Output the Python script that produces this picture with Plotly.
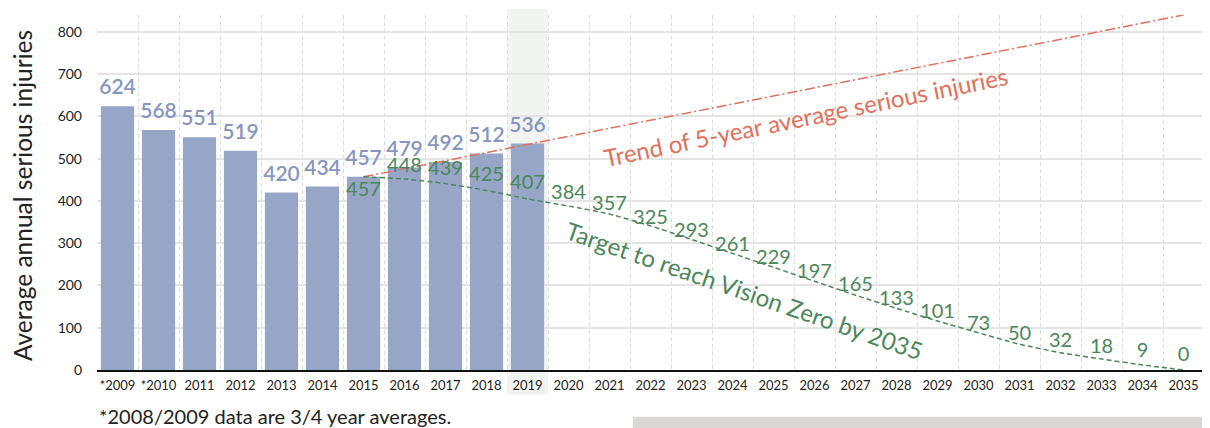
import plotly.graph_objects as go

# ---- data ----
categories = ["*2009", "*2010", "2011", "2012", "2013", "2014", "2015", "2016", "2017",
              "2018", "2019", "2020", "2021", "2022", "2023", "2024", "2025", "2026",
              "2027", "2028", "2029", "2030", "2031", "2032", "2033", "2034", "2035"]
bar_years = ["*2009", "*2010", "2011", "2012", "2013", "2014", "2015", "2016", "2017", "2018", "2019"]
bar_values = [624, 568, 551, 519, 420, 434, 457, 479, 492, 512, 536]

target_years = ["2015", "2016", "2017", "2018", "2019", "2020", "2021", "2022", "2023", "2024",
                "2025", "2026", "2027", "2028", "2029", "2030", "2031", "2032", "2033", "2034", "2035"]
target_labels = [457, 448, 439, 425, 407, 384, 357, 325, 293, 261, 229, 197, 165, 133, 101,
                 73, 50, 32, 18, 9, 0]
target_curve = [457, 452, 441, 425, 405, 388, 369, 341, 309, 276, 243, 210, 177, 146, 116,
                88, 61, 41, 26, 12, 0]

trend_years = ["2015", "2035"]
trend_values = [457, 840]

y_ticks = [0, 100, 200, 300, 400, 500, 600, 700, 800]

FONT = "Lato"
BLUE_BAR = "#97a6c6"
BLUE_TXT = "#8796c0"
GREEN = "#4b875b"
ORANGE = "#e2705a"

fig = go.Figure()

fig.add_trace(go.Bar(
    x=bar_years, y=bar_values, marker=dict(color=BLUE_BAR, line=dict(width=0)),
    hoverinfo="skip", showlegend=False,
))

fig.add_trace(go.Scatter(
    x=trend_years, y=trend_values, mode="lines",
    line=dict(color=ORANGE, width=1.5, dash="10px,3px,2px,3px"),
    showlegend=False, hoverinfo="skip",
))

fig.add_trace(go.Scatter(
    x=target_years, y=target_curve, mode="lines",
    line=dict(color=GREEN, width=1.5, dash="5px,3px", shape="spline", smoothing=0.6),
    showlegend=False, hoverinfo="skip",
))

fig.add_trace(go.Scatter(
    x=bar_years, y=bar_values, mode="markers+text", text=[str(v) for v in bar_values],
    marker=dict(size=9, opacity=0),
    textposition="top center",
    textfont=dict(family=FONT, size=21, color=BLUE_TXT, weight=600),
    showlegend=False, hoverinfo="skip",
))

fig.add_trace(go.Scatter(
    x=target_years, y=target_labels, mode="markers+text", text=[str(v) for v in target_labels],
    marker=dict(size=5, opacity=0),
    textposition=["bottom center"] + ["top center"] * (len(target_labels) - 1),
    textfont=dict(family=FONT, size=20, color=GREEN),
    showlegend=False, hoverinfo="skip",
))

# highlight column behind 2019
fig.add_shape(type="rect", xref="x", yref="paper",
              x0=categories.index("2019") - 0.5, x1=categories.index("2019") + 0.5,
              y0=-0.07, y1=1.017, fillcolor="#f2f4f2", line=dict(width=0), layer="below")

# grey block bottom right
fig.add_shape(type="rect", xref="paper", yref="paper",
              x0=0.484, x1=1.02, y0=-0.132, y1=-0.25, fillcolor="#d9d8d5", line=dict(width=0))

fig.add_annotation(text="Trend of 5-year average serious injuries", xref="x", yref="y",
                   x=16.8, y=599, showarrow=False, textangle=-11.6,
                   font=dict(family=FONT, size=24, color=ORANGE))
fig.add_annotation(text="Target to reach Vision Zero by 2035", xref="x", yref="y",
                   x=15.3, y=189, showarrow=False, textangle=19,
                   font=dict(family=FONT, size=24, color=GREEN))
fig.add_annotation(text="*2008/2009 data are 3/4 year averages.", xref="paper", yref="paper",
                   x=0, y=-0.13, xanchor="left", yanchor="middle", showarrow=False,
                   font=dict(family=FONT, size=20, color="#222222"))
# y-axis title
fig.add_annotation(text="Average annual serious injuries", xref="paper", yref="paper",
                   x=0, xshift=-75, y=0.49, xanchor="center", yanchor="middle",
                   textangle=-90, showarrow=False,
                   font=dict(family=FONT, size=24.5, color="#222222"))

fig.update_layout(
    width=1202, height=420,
    margin=dict(l=89, r=6, t=7, b=58),
    paper_bgcolor="white", plot_bgcolor="white",
    bargap=0.19,
    font=dict(family=FONT, color="#222222"),
    xaxis=dict(
        type="category", categoryorder="array", categoryarray=categories,
        range=[-0.5, len(categories) - 0.5],
        tickson="boundaries", ticks="", showgrid=True, gridcolor="#dcdcdc", gridwidth=1,
        griddash="4px,3px", showline=True, linecolor="#111111", linewidth=2,
        ticklabelstandoff=2, tickangle=0,
        tickfont=dict(family=FONT, size=13, color="#222222"), automargin=False,
    ),
    yaxis=dict(
        range=[0, 840], tickvals=y_ticks, showgrid=True, gridcolor="#e4e4e4", gridwidth=2,
        zeroline=False, showline=False, ticks="", ticklabelstandoff=14,
        tickfont=dict(family=FONT, size=14, color="#222222"),
        automargin=False,
    ),
)

fig.write_html("out.html")
